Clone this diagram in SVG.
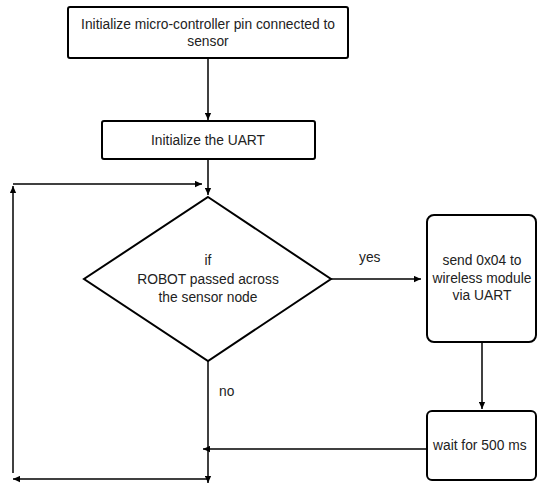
<svg xmlns="http://www.w3.org/2000/svg" width="537" height="485" viewBox="0 0 537 485">
<style>
.n{fill:#fff;stroke:#000;stroke-width:2}
.c{fill:none;stroke:#000;stroke-width:1.5}
text{font-family:"Liberation Sans Narrow","Liberation Sans",Arial,sans-serif;font-size:13.8px;fill:#222}
.m{text-anchor:middle}
</style>
<defs>
<marker id="a" viewBox="0 0 10 10" refX="10" refY="5" markerWidth="7" markerHeight="7" orient="auto" markerUnits="userSpaceOnUse"><path d="M0,0.5L10,5L0,9.5z" fill="#000"/></marker>
</defs>
<rect width="537" height="485" fill="#fff"/>
<g id="connectors">
<path class="c" d="M208,58V120" marker-end="url(#a)"/>
<path class="c" d="M208,159V195" marker-end="url(#a)"/>
<path class="c" d="M13,473V186" marker-end="url(#a)"/>
<path class="c" d="M13,184H202" marker-end="url(#a)"/>
<path class="c" d="M331,279H421" marker-end="url(#a)"/>
<path class="c" d="M482,342V409" marker-end="url(#a)"/>
<path class="c" d="M427,449H203" marker-end="url(#a)"/>
<path class="c" d="M208,361V483" marker-end="url(#a)"/>
<path class="c" d="M208,479H13" marker-end="url(#a)"/>
<text x="359" y="262">yes</text>
<text x="219" y="396">no</text>
</g>
<g id="init-pin">
<rect class="n" x="68" y="7" width="280" height="51" rx="2"/>
<text class="m" x="208" y="29">Initialize micro-controller pin connected to</text>
<text class="m" x="208" y="46">sensor</text>
</g>
<g id="init-uart">
<rect class="n" x="102" y="121" width="213" height="38" rx="2"/>
<text class="m" x="208" y="145">Initialize the UART</text>
</g>
<g id="decision">
<path class="n" d="M208,197L331,279L208,361L84,279Z" stroke-width="2.4"/>
<text class="m" x="208" y="265">if</text>
<text class="m" x="208" y="284">ROBOT passed across</text>
<text class="m" x="208" y="302">the sensor node</text>
</g>
<g id="send">
<rect class="n" x="427" y="215" width="109" height="127" rx="7"/>
<text class="m" x="482" y="265">send 0x04 to</text>
<text class="m" x="482" y="283">wireless module</text>
<text class="m" x="482" y="300">via UART</text>
</g>
<g id="wait">
<rect class="n" x="427" y="411" width="109" height="69" rx="5"/>
<text x="433" y="450">wait for 500 ms</text>
</g>
</svg>
